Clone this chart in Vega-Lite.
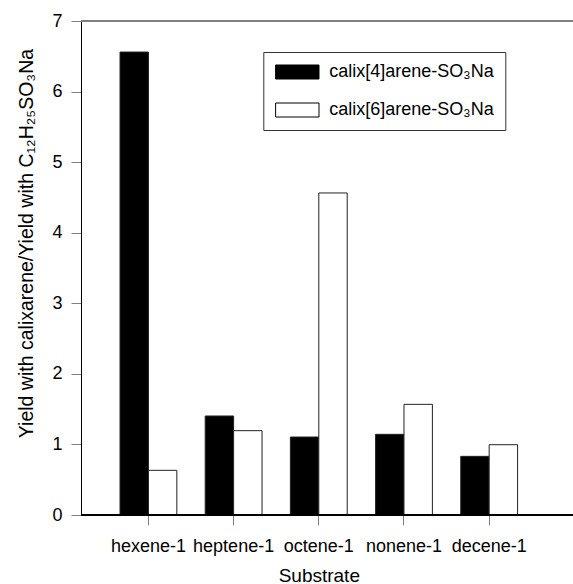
{
  "$schema": "https://vega.github.io/schema/vega-lite/v6.json",
  "width": 492,
  "height": 494,
  "autosize": {"type": "none"},
  "padding": {"left": 81, "top": 21, "right": 0, "bottom": 69},
  "background": "white",
  "config": {
    "view": {"stroke": null},
    "font": "Liberation Sans",
    "axis": {"labelFont": "Liberation Sans", "titleFont": "Liberation Sans", "labelColor": "black", "titleColor": "black", "titleFontWeight": "normal", "labelFontSize": 18, "titleFontSize": 18, "grid": false}
  },
  "data": {
    "values": [
      {"substrate": "hexene-1", "series": "calix[4]arene-SO₃Na", "value": 6.56},
      {"substrate": "hexene-1", "series": "calix[6]arene-SO₃Na", "value": 0.633},
      {"substrate": "heptene-1", "series": "calix[4]arene-SO₃Na", "value": 1.403},
      {"substrate": "heptene-1", "series": "calix[6]arene-SO₃Na", "value": 1.195},
      {"substrate": "octene-1", "series": "calix[4]arene-SO₃Na", "value": 1.105},
      {"substrate": "octene-1", "series": "calix[6]arene-SO₃Na", "value": 4.563},
      {"substrate": "nonene-1", "series": "calix[4]arene-SO₃Na", "value": 1.143},
      {"substrate": "nonene-1", "series": "calix[6]arene-SO₃Na", "value": 1.568},
      {"substrate": "decene-1", "series": "calix[4]arene-SO₃Na", "value": 0.831},
      {"substrate": "decene-1", "series": "calix[6]arene-SO₃Na", "value": 0.996}
    ]
  },
  "layer": [
    {
      "mark": {"type": "bar", "stroke": "#222", "strokeWidth": 1},
      "encoding": {
        "x": {
          "field": "substrate",
          "type": "nominal",
          "sort": ["hexene-1", "heptene-1", "octene-1", "nonene-1", "decene-1"],
          "scale": {"range": [0, 475.6], "paddingInner": 0.333, "paddingOuter": 0.458},
          "axis": {"title": "Substrate", "titleFontSize": 19, "domain": false, "tickSize": 10, "tickColor": "#808080", "labelAngle": 0, "labelPadding": 12, "titlePadding": 11}
        },
        "xOffset": {"field": "series", "type": "nominal", "scale": {"paddingInner": 0, "paddingOuter": 0}},
        "y": {
          "field": "value",
          "type": "quantitative",
          "scale": {"domain": [0, 7], "nice": false},
          "axis": {"title": "Yield with calixarene/Yield with C₁₂H₂₅SO₃Na", "titleFontSize": 19.5, "titleY": 222, "format": "d", "values": [0, 1, 2, 3, 4, 5, 6, 7], "tickSize": 10, "tickColor": "#808080", "domainColor": "black", "labelPadding": 9, "titlePadding": 15}
        },
        "fill": {
          "field": "series",
          "type": "nominal",
          "scale": {"domain": ["calix[4]arene-SO₃Na", "calix[6]arene-SO₃Na"], "range": ["black", "white"]},
          "legend": {
            "title": null,
            "orient": "none",
            "legendX": 182.3,
            "legendY": 31,
            "symbolType": "M-1.1,-1H5.1V1H-1.1Z",
            "symbolSize": 196,
            "symbolStrokeColor": "black",
            "symbolStrokeWidth": 1,
            "symbolOpacity": 1,
            "labelFont": "Liberation Sans",
            "labelFontSize": 18,
            "labelColor": "black",
            "labelLimit": 400,
            "labelOffset": 37,
            "rowPadding": 20,
            "padding": 11,
            "strokeColor": "#333",
            "fillColor": "white"
          }
        }
      }
    },
    {
      "mark": {"type": "rule", "color": "black", "strokeWidth": 1},
      "encoding": {"y": {"datum": 0}}
    },
    {
      "mark": {"type": "rule", "color": "#808080", "strokeWidth": 1.5},
      "encoding": {"y": {"datum": 7}}
    }
  ]
}
